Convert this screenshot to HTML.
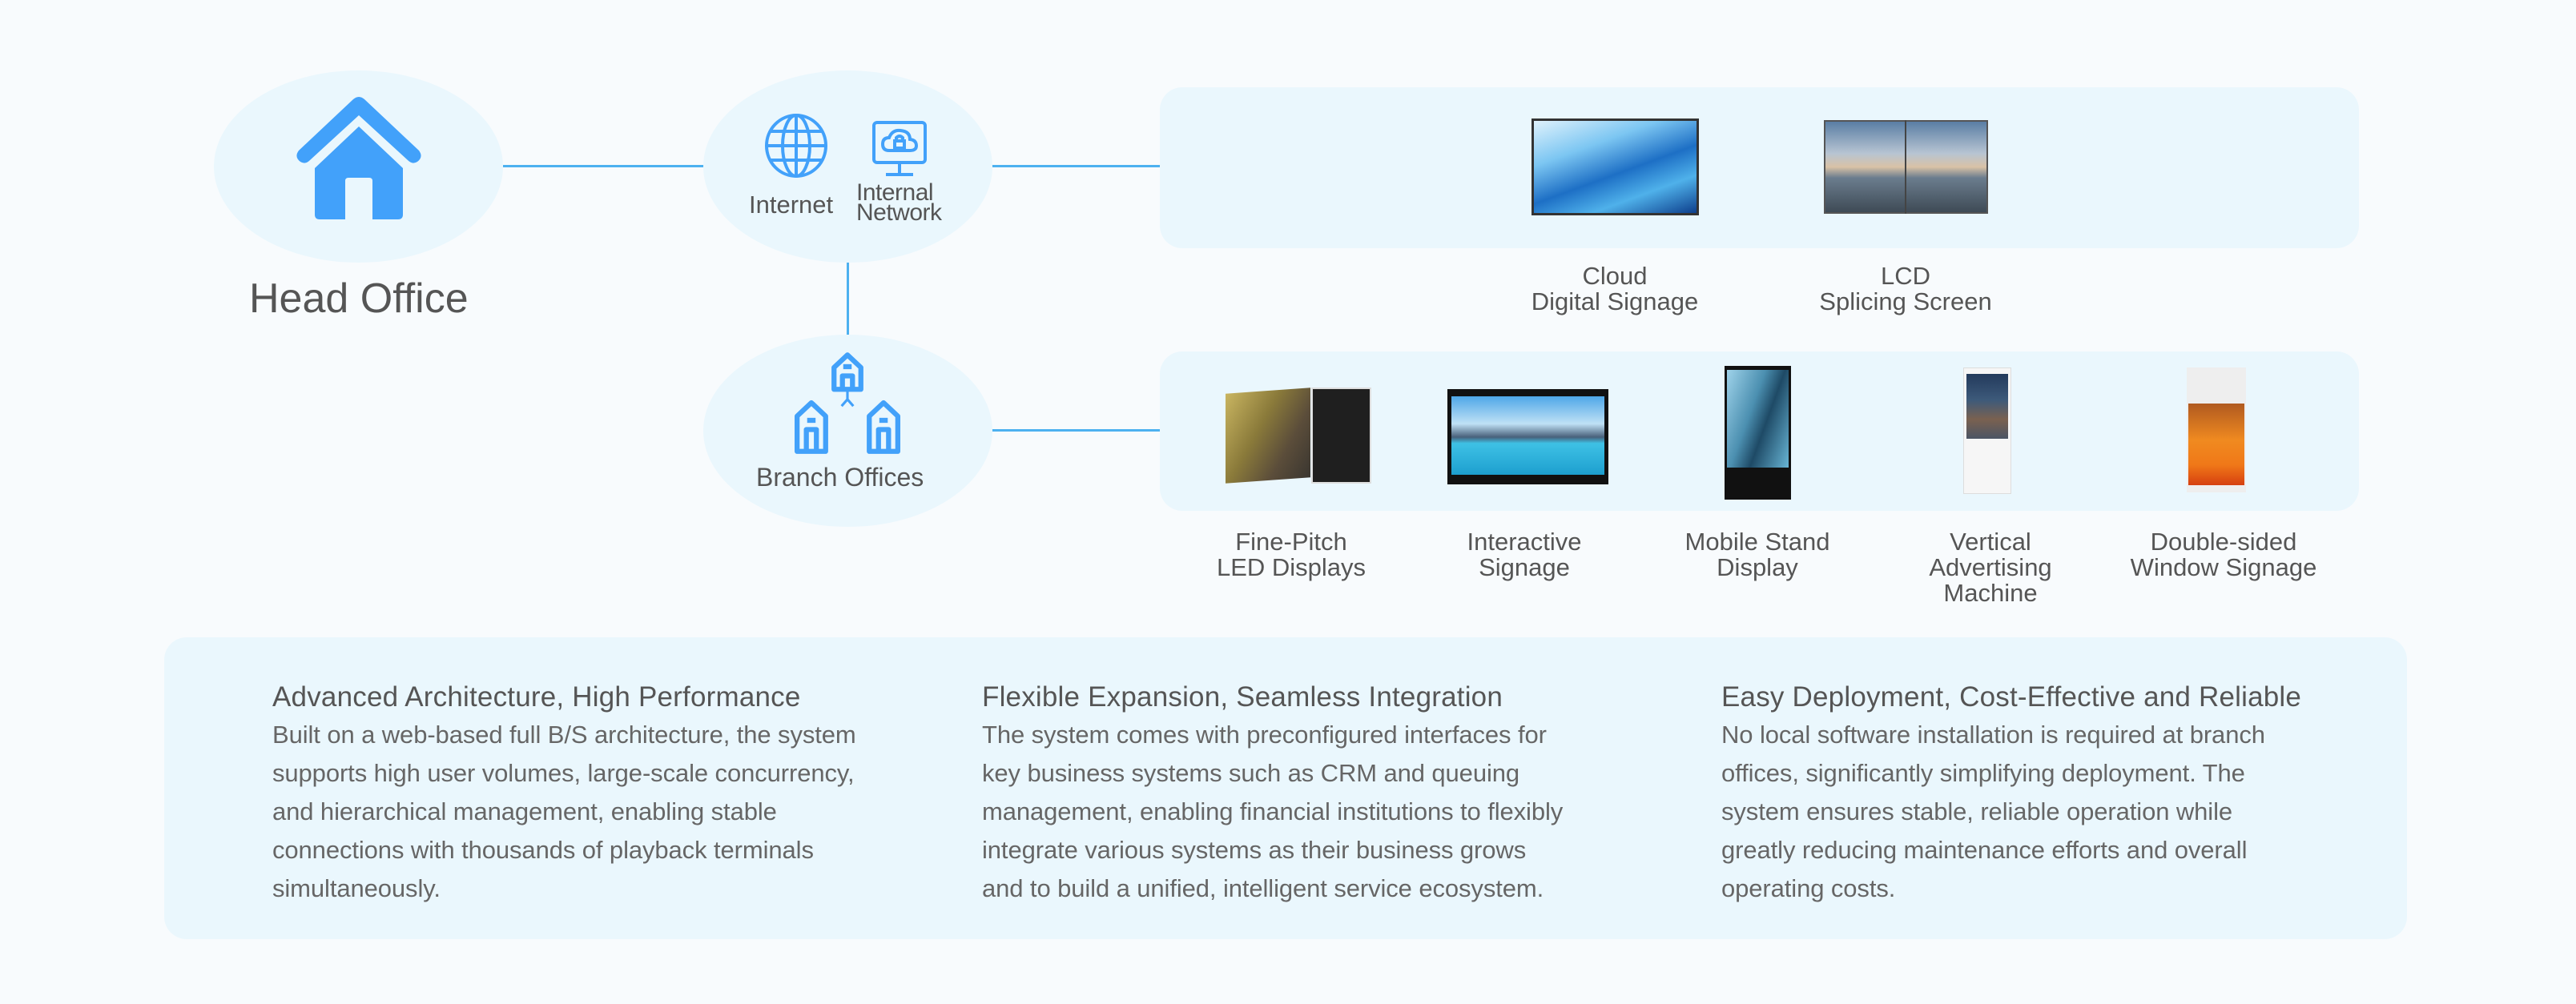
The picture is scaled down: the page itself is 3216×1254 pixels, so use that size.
<!DOCTYPE html>
<html><head><meta charset="utf-8"><style>
*{margin:0;padding:0;box-sizing:border-box}
body{width:3216px;height:1254px;background:#f8fbfd;position:relative;overflow:hidden;font-family:"Liberation Sans",sans-serif;color:#5f5f5f}
.a{position:absolute}
.ell{position:absolute;background:#eaf7fd;border-radius:50%}
.line{position:absolute;background:#4db1f0}
.panel{position:absolute;background:#eaf7fd;border-radius:28px}
.lbl{position:absolute;text-align:center;font-size:31px;line-height:32px;white-space:nowrap;transform:translateX(-50%);color:#555}
.col{position:absolute;top:848px;white-space:nowrap}
.col h3{font-size:35px;font-weight:normal;color:#555;line-height:46px;letter-spacing:0.2px}
.col p{font-size:31px;line-height:48px;color:#666;letter-spacing:-0.1px}
</style></head><body>
<div class="line" style="left:628px;top:206px;width:254px;height:3px"></div>
<div class="line" style="left:1238px;top:206px;width:210px;height:3px"></div>
<div class="line" style="left:1057px;top:326px;width:3px;height:92px"></div>
<div class="line" style="left:1238px;top:536px;width:210px;height:3px"></div>

<div class="ell" style="left:267px;top:88px;width:361px;height:240px"></div>
<svg class="a" style="left:365px;top:118px" width="166" height="156" viewBox="0 0 166 156">
<path d="M8 70 L76 6 Q83 0 90 6 L158 70 Q164 78 156 84 Q150 88 144 82 L83 26 L22 82 Q16 88 10 84 Q2 78 8 70Z" fill="#42a1fa"/>
<path d="M28 92 L83 40 L138 92 L138 150 Q138 156 132 156 L100 156 L100 108 Q100 104 96 104 L70 104 Q66 104 66 108 L66 156 L34 156 Q28 156 28 150Z" fill="#42a1fa"/>
</svg>
<div class="a" style="left:311px;top:343px;font-size:52px;color:#555">Head Office</div>

<div class="ell" style="left:878px;top:88px;width:361px;height:240px"></div>
<svg class="a" style="left:953px;top:140px" width="82" height="84" viewBox="0 0 82 84">
<g fill="none" stroke="#42a1fa" stroke-width="4"><ellipse cx="41" cy="42" rx="37" ry="38"/><ellipse cx="41" cy="42" rx="17" ry="38"/><line x1="41" y1="4" x2="41" y2="80"/><line x1="4" y1="42" x2="78" y2="42"/><line x1="9" y1="24" x2="73" y2="24"/><line x1="9" y1="60" x2="73" y2="60"/></g></svg>
<svg class="a" style="left:1088px;top:150px" width="70" height="72" viewBox="0 0 70 72">
<g fill="none" stroke="#42a1fa" stroke-width="4"><rect x="3" y="3" width="64" height="50" rx="4"/><line x1="35" y1="53" x2="35" y2="66"/><line x1="18" y1="68" x2="52" y2="68"/><path d="M22 38 Q14 38 14 30 Q14 22 22 22 Q26 12 36 13 Q48 14 48 24 Q56 25 56 32 Q56 38 48 38Z"/><rect x="29" y="26" width="12" height="9"/><path d="M31 26 V22 Q35 18 39 22 V26"/></g></svg>
<div class="a" style="left:935px;top:238px;font-size:31px;color:#555">Internet</div>
<div class="a" style="left:1069px;top:228px;font-size:30px;line-height:25px;color:#555;letter-spacing:-0.5px">Internal<br>Network</div>

<div class="ell" style="left:878px;top:418px;width:361px;height:240px"></div>
<svg class="a" style="left:992px;top:438px" width="132" height="130" viewBox="0 0 126 124">
<g fill="none" stroke="#42a1fa" stroke-width="6" stroke-linejoin="round"><path d="M47 46 V20 L63 5 L79 20 V46Z"/><path d="M57 46 V30 H69 V46"/><line x1="58" y1="19" x2="68" y2="19"/>
<path d="M3 120 V78 L20 62 L37 78 V120Z"/><path d="M14 120 V94 H26 V120"/><line x1="15" y1="83" x2="25" y2="83"/>
<path d="M89 120 V78 L106 62 L123 78 V120Z"/><path d="M100 120 V94 H112 V120"/><line x1="101" y1="83" x2="111" y2="83"/>
<path d="M63 48 V58 M63 58 L56 66 M63 58 L70 66" stroke-width="3"/></g></svg>
<div class="a" style="left:944px;top:578px;font-size:32px;color:#555">Branch Offices</div>

<div class="panel" style="left:1448px;top:109px;width:1497px;height:201px"></div>
<div class="a" style="left:1912px;top:148px;width:209px;height:121px;border:3px solid #333;background:linear-gradient(160deg,#dff2fc 0%,#7cc6f2 30%,#1d6fc5 55%,#4fb1ea 75%,#0d3f8c 100%)"></div>
<div class="a" style="left:2277px;top:150px;width:205px;height:117px;border:2px solid #555;background:linear-gradient(180deg,#5a7ea4 0%,#b7c4d2 35%,#d9c2a6 50%,#6b7d8e 62%,#3e4a55 100%)"></div>
<div class="a" style="left:2378px;top:150px;width:2px;height:117px;background:#444"></div>
<div class="lbl" style="left:2016px;top:329px">Cloud<br>Digital Signage</div>
<div class="lbl" style="left:2379px;top:329px">LCD<br>Splicing Screen</div>

<div class="panel" style="left:1448px;top:439px;width:1497px;height:199px"></div>
<div class="a" style="left:1530px;top:488px;width:106px;height:112px;background:linear-gradient(120deg,#c9b561 0%,#8a7a3a 40%,#5b4d3a 70%,#3a3630 100%);transform:skewY(-4deg)"></div>
<div class="a" style="left:1637px;top:484px;width:75px;height:120px;background:#1f1f1f;border:2px solid #ddd"></div>
<div class="a" style="left:1807px;top:486px;width:201px;height:119px;background:#111;padding:9px 5px 12px 5px"><div style="width:100%;height:100%;background:linear-gradient(180deg,#4ea7e8 0%,#bfe1f5 35%,#48607a 52%,#3ec1e5 60%,#1d9fcf 100%)"></div></div>
<div class="a" style="left:2153px;top:457px;width:83px;height:167px;background:#111;padding:5px 3px 40px 3px"><div style="width:100%;height:100%;background:linear-gradient(110deg,#9fd3ea 0%,#4b8fb0 40%,#1e4a66 60%,#68b5d5 100%)"></div></div>
<div class="a" style="left:2451px;top:459px;width:60px;height:158px;background:#f6f6f6;border:1px solid #ddd;padding:7px 3px 68px 3px"><div style="width:100%;height:100%;background:linear-gradient(180deg,#233a5c 0%,#3d5a7a 40%,#7a6150 70%,#4b5564 100%)"></div></div>
<div class="a" style="left:2730px;top:459px;width:74px;height:156px;background:#eee;padding:45px 2px 9px 2px"><div style="width:100%;height:100%;background:linear-gradient(180deg,#b05a20 0%,#f08a20 45%,#f07818 75%,#d64010 100%)"></div></div>
<div class="lbl" style="left:1612px;top:661px">Fine-Pitch<br>LED Displays</div>
<div class="lbl" style="left:1903px;top:661px">Interactive<br>Signage</div>
<div class="lbl" style="left:2194px;top:661px">Mobile Stand<br>Display</div>
<div class="lbl" style="left:2485px;top:661px">Vertical<br>Advertising<br>Machine</div>
<div class="lbl" style="left:2776px;top:661px">Double-sided<br>Window Signage</div>

<div class="panel" style="left:205px;top:796px;width:2800px;height:377px"></div>
<div class="col" style="left:340px"><h3>Advanced Architecture, High Performance</h3><p>Built on a web-based full B/S architecture, the system<br>supports high user volumes, large-scale concurrency,<br>and hierarchical management, enabling stable<br>connections with thousands of playback terminals<br>simultaneously.</p></div>
<div class="col" style="left:1226px"><h3>Flexible Expansion, Seamless Integration</h3><p>The system comes with preconfigured interfaces for<br>key business systems such as CRM and queuing<br>management, enabling financial institutions to flexibly<br>integrate various systems as their business grows<br>and to build a unified, intelligent service ecosystem.</p></div>
<div class="col" style="left:2149px"><h3>Easy Deployment, Cost-Effective and Reliable</h3><p>No local software installation is required at branch<br>offices, significantly simplifying deployment. The<br>system ensures stable, reliable operation while<br>greatly reducing maintenance efforts and overall<br>operating costs.</p></div>
</body></html>
